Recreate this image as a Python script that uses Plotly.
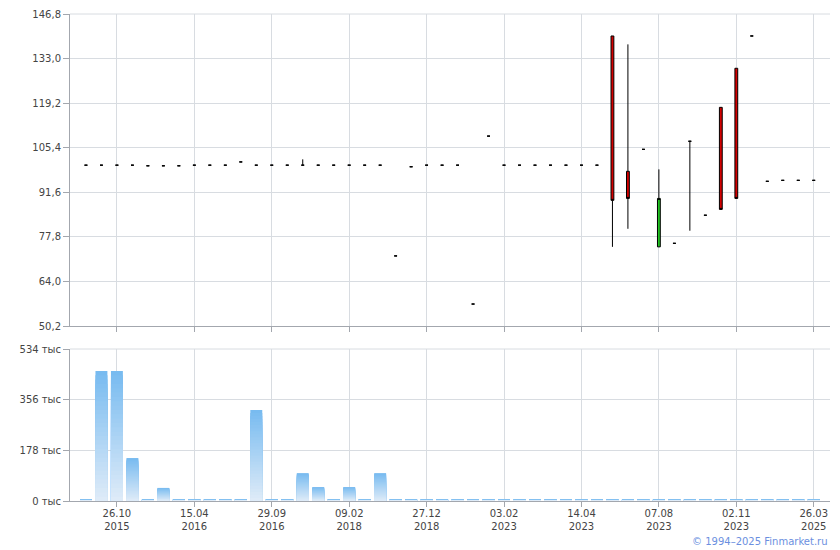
import plotly.graph_objects as go
from plotly.subplots import make_subplots

# ---- data ----
idx = list(range(48))
open_ = [100, 100, 100, 100, 99.8, 99.8, 99.8, 100, 100, 100, 101.0, 100, 100, 100, 100, 100,
         100, 100, 100, 100, 71.9, 99.5, 100, 100, 100, 57.0, 109.0, 100, 100, 100, 100, 100,
         100, 100, 140.0, 98.1, 104.9, 74.7, 75.8, 107.4, 84.5, 117.9, 130.0, 140.0, 95.0, 95.3, 95.3, 95.3]
high = [100, 100, 100, 100, 99.8, 99.8, 99.8, 100, 100, 100, 101.0, 100, 100, 100, 101.8, 100,
        100, 100, 100, 100, 71.9, 99.5, 100, 100, 100, 57.0, 109.0, 100, 100, 100, 100, 100,
        100, 100, 140.0, 137.4, 104.9, 98.7, 75.8, 107.4, 84.5, 117.9, 130.0, 140.0, 95.0, 95.3, 95.3, 95.3]
low = [100, 100, 100, 100, 99.8, 99.8, 99.8, 100, 100, 100, 101.0, 100, 100, 100, 100, 100,
       100, 100, 100, 100, 71.9, 99.5, 100, 100, 100, 57.0, 109.0, 100, 100, 100, 100, 100,
       100, 100, 74.7, 80.3, 104.9, 74.7, 75.8, 79.7, 84.5, 86.3, 89.7, 140.0, 95.0, 95.3, 95.3, 95.3]
close = [100, 100, 100, 100, 99.8, 99.8, 99.8, 100, 100, 100, 101.0, 100, 100, 100, 100, 100,
         100, 100, 100, 100, 71.9, 99.5, 100, 100, 100, 57.0, 109.0, 100, 100, 100, 100, 100,
         100, 100, 89.1, 89.7, 104.9, 89.7, 75.8, 107.4, 84.5, 86.3, 89.7, 140.0, 95.0, 95.3, 95.3, 95.3]
volume_k = [4, 457, 457, 151, 4, 46, 4, 4, 4, 4, 4, 320, 4, 4, 98, 49,
            4, 49, 4, 98, 4, 4, 4, 4, 4, 4, 4, 4, 4, 4, 4, 4,
            4, 4, 4, 4, 4, 4, 4, 4, 4, 4, 4, 4, 4, 4, 4, 4]

x_tick_pos = [2, 7, 12, 17, 22, 27, 32, 37, 42, 47]
x_tick_labels = ["26.10<br>2015", "15.04<br>2016", "29.09<br>2016", "09.02<br>2018", "27.12<br>2018",
                 "03.02<br>2023", "14.04<br>2023", "07.08<br>2023", "02.11<br>2023", "26.03<br>2025"]
price_ticks = [50.2, 64.0, 77.8, 91.6, 105.4, 119.2, 133.0, 146.8]
price_tick_labels = ["50,2", "64,0", "77,8", "91,6", "105,4", "119,2", "133,0", "146,8"]
vol_ticks_k = [0, 178, 356, 534]
vol_tick_labels = ["0 тыс", "178 тыс", "356 тыс", "534 тыс"]

# ---- figure ----
GRID = "#d8dce1"
AXIS = "#a3a7ae"
TXT = "#444444"
FONT = "DejaVu Sans"
FS = 10

fig = make_subplots(rows=2, cols=1, shared_xaxes=False, vertical_spacing=0.0)

fig.add_trace(go.Candlestick(
    x=idx, open=open_, high=high, low=low, close=close,
    increasing=dict(line=dict(color="#000000", width=1), fillcolor="#22c322"),
    decreasing=dict(line=dict(color="#000000", width=1), fillcolor="#d40000"),
    whiskerwidth=0, showlegend=False, hoverinfo="skip"), row=1, col=1)

# gradient volume bars (overlaid layers, top dark -> bottom light)
N = 30
top_c = (120, 187, 240)
bot_c = (222, 235, 248)
vol = [v * 1000 for v in volume_k]
for k in range(N):
    t = k / (N - 1)
    c = tuple(round(top_c[i] + (bot_c[i] - top_c[i]) * t) for i in range(3))
    frac = (N - k) / N
    fig.add_trace(go.Bar(
        x=idx, y=[v * frac for v in vol],
        marker=dict(color="rgb(%d,%d,%d)" % c, line=dict(width=0)),
        opacity=1, width=0.77, showlegend=False, hoverinfo="skip"), row=2, col=1)

xr = [-1.03, 48.05]
common_x = dict(range=xr, showgrid=True, gridcolor=GRID, gridwidth=1, zeroline=False,
                showline=True, linecolor=AXIS, linewidth=1, ticks="outside", ticklen=5,
                tickcolor=AXIS, tickmode="array", tickvals=x_tick_pos, ticktext=x_tick_labels,
                tickfont=dict(family=FONT, size=FS, color=TXT), rangeslider=dict(visible=False),
                fixedrange=True, automargin=False)
fig.update_xaxes(**common_x)
fig.update_xaxes(showticklabels=False, row=1, col=1)
fig.update_xaxes(showticklabels=True, ticklabelstandoff=-2, row=2, col=1)

common_y = dict(showgrid=True, gridcolor=GRID, gridwidth=1, zeroline=False,
                showline=True, linecolor=AXIS, linewidth=1, ticks="outside", ticklen=6,
                tickcolor=AXIS, tickfont=dict(family=FONT, size=FS, color=TXT), tickmode="array",
                fixedrange=True, automargin=False)
fig.update_yaxes(**common_y)
fig.update_yaxes(range=[50.2, 146.805], tickvals=price_ticks, ticktext=price_tick_labels, row=1, col=1)
fig.update_yaxes(range=[0, 534100], tickvals=[v * 1000 for v in vol_ticks_k], ticktext=vol_tick_labels,
                 row=2, col=1)

# top grid lines of both panels (plotly drops grid lines lying on the plot edge)
for yref in ("y domain", "y2 domain"):
    fig.add_shape(type="line", xref="paper", yref=yref, x0=0, x1=1, y0=1, y1=1,
                  line=dict(color=GRID, width=1), layer="below")

# page has an 8px body margin: figure is 8px smaller and margins compensate
W, H = 832, 542
ML, MR, MT, MB = 62, 10, 6, 49
H_in = H - MT - MB
fig.update_layout(
    width=W, height=H,
    margin=dict(l=ML, r=MR, t=MT, b=MB),
    paper_bgcolor="white", plot_bgcolor="white",
    barmode="overlay", boxgap=0.74,
    font=dict(family=FONT, size=FS, color=TXT),
    yaxis=dict(domain=[175 / H_in, 1]),
    yaxis2=dict(domain=[0, 152 / H_in]),
    annotations=[dict(text="© 1994–2025 Finmarket.ru", xref="paper", yref="paper",
                      x=1.0, y=-0.084, xanchor="right", yanchor="middle", showarrow=False,
                      font=dict(family=FONT, size=FS, color="#6b8fe0"))],
)

fig.write_html("out.html")
